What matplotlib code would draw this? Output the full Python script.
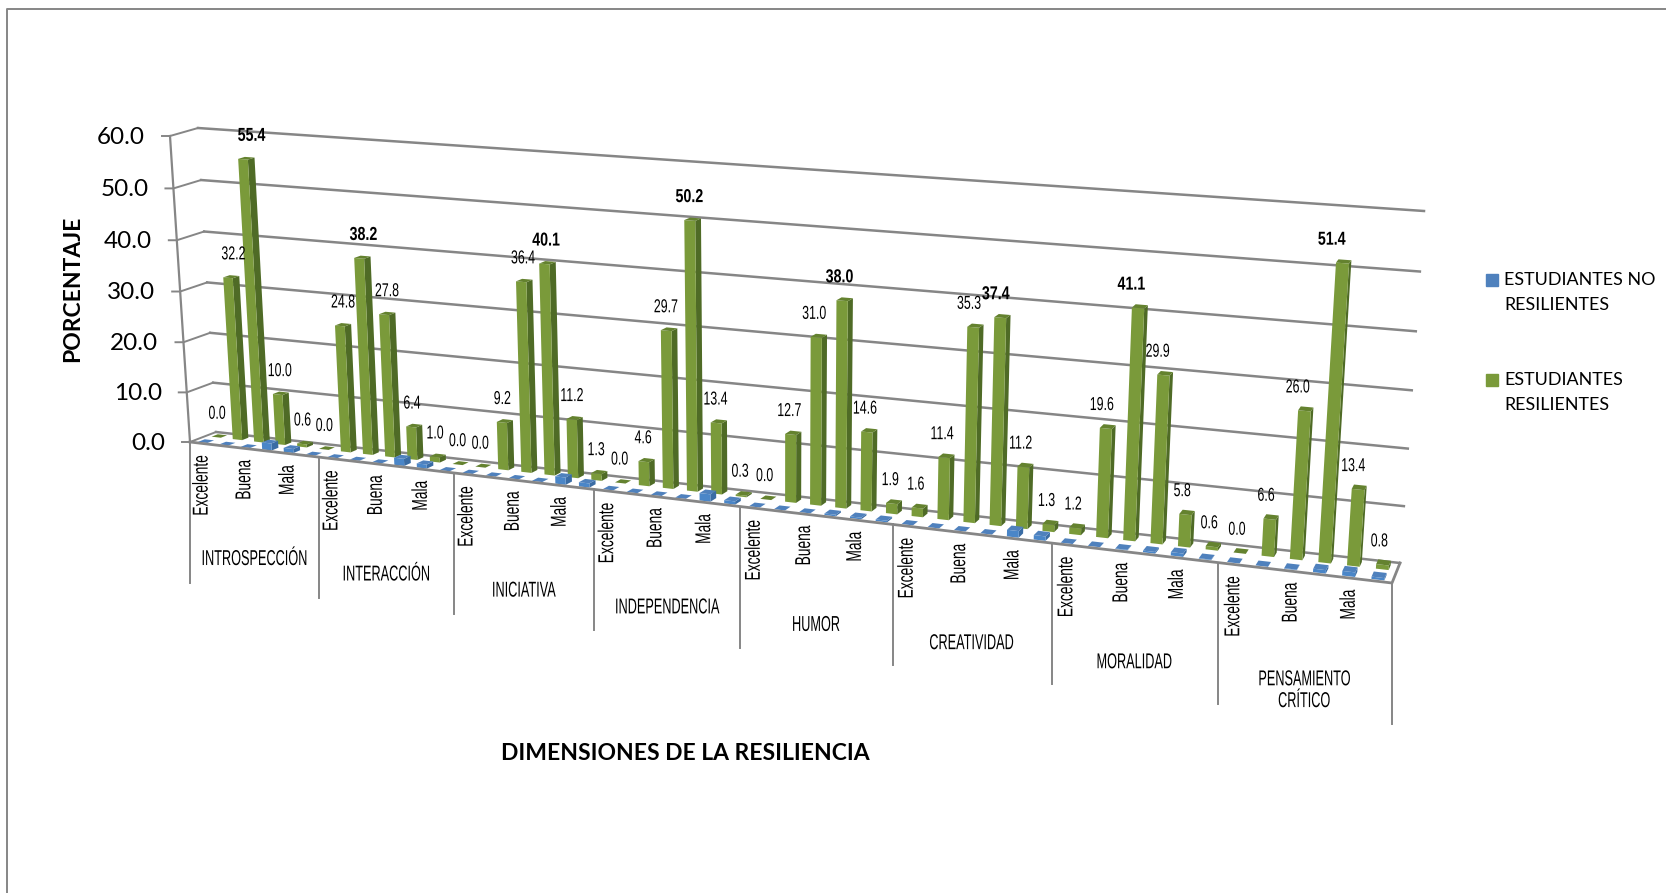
import numpy as np
import matplotlib
matplotlib.use("Agg")
import matplotlib.pyplot as plt
from matplotlib.transforms import Transform, Affine2D
from matplotlib.patches import Rectangle
from matplotlib.patheffects import AbstractPathEffect

groups = ["INTROSPECCIÓN", "INTERACCIÓN", "INICIATIVA", "INDEPENDENCIA", "HUMOR",
          "CREATIVIDAD", "MORALIDAD", "PENSAMIENTO\nCRÍTICO"]
levels = ["Excelente", "Buena", "Mala"]
resilientes = [0.0, 32.2, 55.4, 10.0, 0.6, 0.0,
               24.8, 38.2, 27.8, 6.4, 1.0, 0.0,
               0.0, 9.2, 36.4, 40.1, 11.2, 1.3,
               0.0, 4.6, 29.7, 50.2, 13.4, 0.3,
               0.0, 12.7, 31.0, 38.0, 14.6, 1.9,
               1.6, 11.4, 35.3, 37.4, 11.2, 1.3,
               1.2, 19.6, 41.1, 29.9, 5.8, 0.6,
               0.0, 6.6, 26.0, 51.4, 13.4, 0.8]
no_resilientes = [0, 0, 0, 1.4, 0.8, 0,
                  0, 0, 0, 1.4, 0.8, 0,
                  0, 0, 0, 0, 1.4, 0.8,
                  0, 0, 0, 0, 1.4, 0.6,
                  0, 0, 0, 0.3, 0.3, 0.3,
                  0, 0, 0, 0, 1.2, 0.8,
                  0, 0, 0.1, 0.3, 0.6, 0.1,
                  0, 0, 0.1, 0.6, 0.8, 0.4]
yticks = [0, 10, 20, 30, 40, 50, 60]
n = len(resilientes)
narrow = "Liberation Sans"


def homography(c00, c10, c01, c11):
    src = [(0, 0), (1, 0), (0, 1), (1, 1)]
    dst = [c00, c10, c01, c11]
    A, b = [], []
    for (u, t), (x, y) in zip(src, dst):
        A.append([u, t, 1, 0, 0, 0, -u * x, -t * x])
        A.append([0, 0, 0, u, t, 1, -u * y, -t * y])
        b += [x, y]
    return np.append(np.linalg.solve(np.array(A, float), np.array(b, float)), 1).reshape(3, 3)


# corners of the chart box in pixels: zero left, zero right, top left, top right
H_front = homography((190, 442), (1392, 583), (170, 136), (1416, 224))
H_back = homography((216, 432), (1400, 563), (198, 128), (1424, 211))


class Persp(Transform):
    input_dims = 2
    output_dims = 2

    def __init__(self, plane):
        super().__init__()
        self.plane = plane

    def transform_non_affine(self, values):
        values = np.asarray(values, float)
        uv = np.c_[(values[:, 0] + 0.5) / n, values[:, 1] / 60, np.ones(len(values))]
        f = uv @ H_front.T
        b = uv @ H_back.T
        f = f[:, :2] / f[:, 2:]
        b = b[:, :2] / b[:, 2:]
        return (1 - self.plane) * f + self.plane * b


class Squeeze(AbstractPathEffect):
    # no condensed font is installed, so narrow the glyphs when they are drawn
    def __init__(self, sx=1.0, sy=1.0, keep_top=False):
        super().__init__()
        self.sx, self.sy, self.keep_top = sx, sy, keep_top

    def draw_path(self, renderer, gc, tpath, affine, rgbFace=None):
        box = tpath.get_extents(affine)
        cx = (box.x0 + box.x1) / 2
        cy = box.y1 if self.keep_top else (box.y0 + box.y1) / 2
        sq = Affine2D().translate(-cx, -cy).scale(self.sx, self.sy).translate(cx, cy)
        renderer.draw_path(gc, tpath, affine + sq, rgbFace)


def pt(x, d, v):
    return Persp(d).transform_non_affine([[x, v]])[0]


fig = plt.figure(figsize=(16.66, 8.93), dpi=100)
ax = fig.add_axes([0, 0, 1, 1])
ax.set_xlim(0, 1666)
ax.set_ylim(893, 0)
ax.axis("off")

grid = "#868686"
# outer border
ax.plot([1666, 7, 7], [9, 9, 893], color=grid, lw=1.4)

# walls and floor
for v in yticks:
    x0, y0 = pt(-0.5, 1, v)
    x1, y1 = pt(n - 0.5, 1, v)
    ax.plot([x0, x1], [y0, y1], color=grid, lw=1.8, zorder=1)
    fx, fy = pt(-0.5, 0, v)
    ax.plot([fx - 8, fx, x0], [fy, fy, y0], color=grid, lw=1.4, zorder=1)
    ax.text(fx - 25, fy + 1, f"{v:.1f}", ha="right", va="center", fontsize=17.5,
            family="Lato", color="black")
a, b = pt(-0.5, 0, 0), pt(-0.5, 0, 60)
ax.plot([a[0], b[0]], [a[1], b[1]], color=grid, lw=1.6, zorder=1)
a, b = pt(n - 0.5, 0, 0), pt(n - 0.5, 1, 0)
c = pt(-0.5, 0, 0)
ax.plot([c[0], a[0], b[0]], [c[1], a[1], b[1]], color=grid, lw=2, zorder=6)


def draw_bars(values, d0, d1, width, front, side, top, z):
    tr = Persp(d0) + ax.transData
    xs = np.arange(n)
    ax.bar(xs, values, width=width, color=front, linewidth=0, transform=tr, zorder=z + 0.2)
    for i, v in enumerate(values):
        l, r = i - width / 2, i + width / 2
        s = np.array([pt(r, d0, 0), pt(r, d1, 0), pt(r, d1, v), pt(r, d0, v)])
        ax.fill(s[:, 0], s[:, 1], color=side, lw=0, zorder=z)
        t = np.array([pt(l, d0, v), pt(r, d0, v), pt(r, d1, v), pt(l, d1, v)])
        ax.fill(t[:, 0], t[:, 1], color=top, lw=0, zorder=z + 0.3)


draw_bars(resilientes, 0.6, 0.84, 0.44, "#7A9A3A", "#4F6B26", "#64822F", 3)
draw_bars(no_resilientes, 0.08, 0.34, 0.44, "#4A86C8", "#3A6CA4", "#4F81BD", 5)

# data labels
top_value = [max(resilientes[g * 6:g * 6 + 6]) for g in range(len(groups))]
tr = Persp(0.6) + ax.transData
for i, v in enumerate(resilientes):
    t = i / (n - 1)
    dx = 1 - 4 * t + (0.15 - 0.32 * t) * v
    bold = v == top_value[i // 6]
    ax.annotate(f"{v:.1f}", (i, v), xycoords=tr, xytext=(dx * 0.72, 16.5), textcoords="offset points",
                ha="center", va="center", fontsize=13.5, family=narrow,
                fontweight="bold" if bold else "normal", zorder=8,
                path_effects=[Squeeze(sx=0.76 if bold else 0.66)])

# multi level category axis
for g, name in enumerate(groups):
    x0, y0 = pt(6 * g - 0.5, 0, 0)
    ax.plot([x0, x0], [y0, y0 + 141], color=grid, lw=1.4, zorder=1)
    for k, lab in enumerate(levels):
        x, y = pt(6 * g + 2 * k, 0, 0)
        ax.text(x + 1.5, y + 12, lab, rotation=90, ha="center", va="top", fontsize=15.5, family=narrow,
                path_effects=[Squeeze(sy=0.64, keep_top=True)])
    x, y = pt(6 * g + 2.5, 0, 0)
    ax.text(x, y + 110 + (8 if "\n" in name else 0), name, ha="center", va="center", fontsize=15.5,
            family=narrow, linespacing=1.05, path_effects=[Squeeze(sx=0.59)])
x0, y0 = pt(n - 0.5, 0, 0)
ax.plot([x0, x0], [y0, y0 + 141], color=grid, lw=1.4, zorder=1)

# titles
ax.text(73, 289, "PORCENTAJE", rotation=90, ha="center", va="center", fontsize=16.5,
        family="Lato", fontweight="bold")
ax.text(685, 753, "DIMENSIONES DE LA RESILIENCIA", ha="center", va="center", fontsize=16.5,
        family="Lato", fontweight="bold")

# legend
ax.add_patch(Rectangle((1486, 274), 12, 12, color="#4F81BD"))
ax.add_patch(Rectangle((1486, 374), 12, 12, color="#7A9A3A"))
ax.text(1504, 280, "ESTUDIANTES NO", va="center", fontsize=12.9, family="Lato")
ax.text(1504, 305, "RESILIENTES", va="center", fontsize=12.9, family="Lato")
ax.text(1504, 380, "ESTUDIANTES", va="center", fontsize=12.9, family="Lato")
ax.text(1504, 405, "RESILIENTES", va="center", fontsize=12.9, family="Lato")

fig.savefig("out.png", dpi=100)
